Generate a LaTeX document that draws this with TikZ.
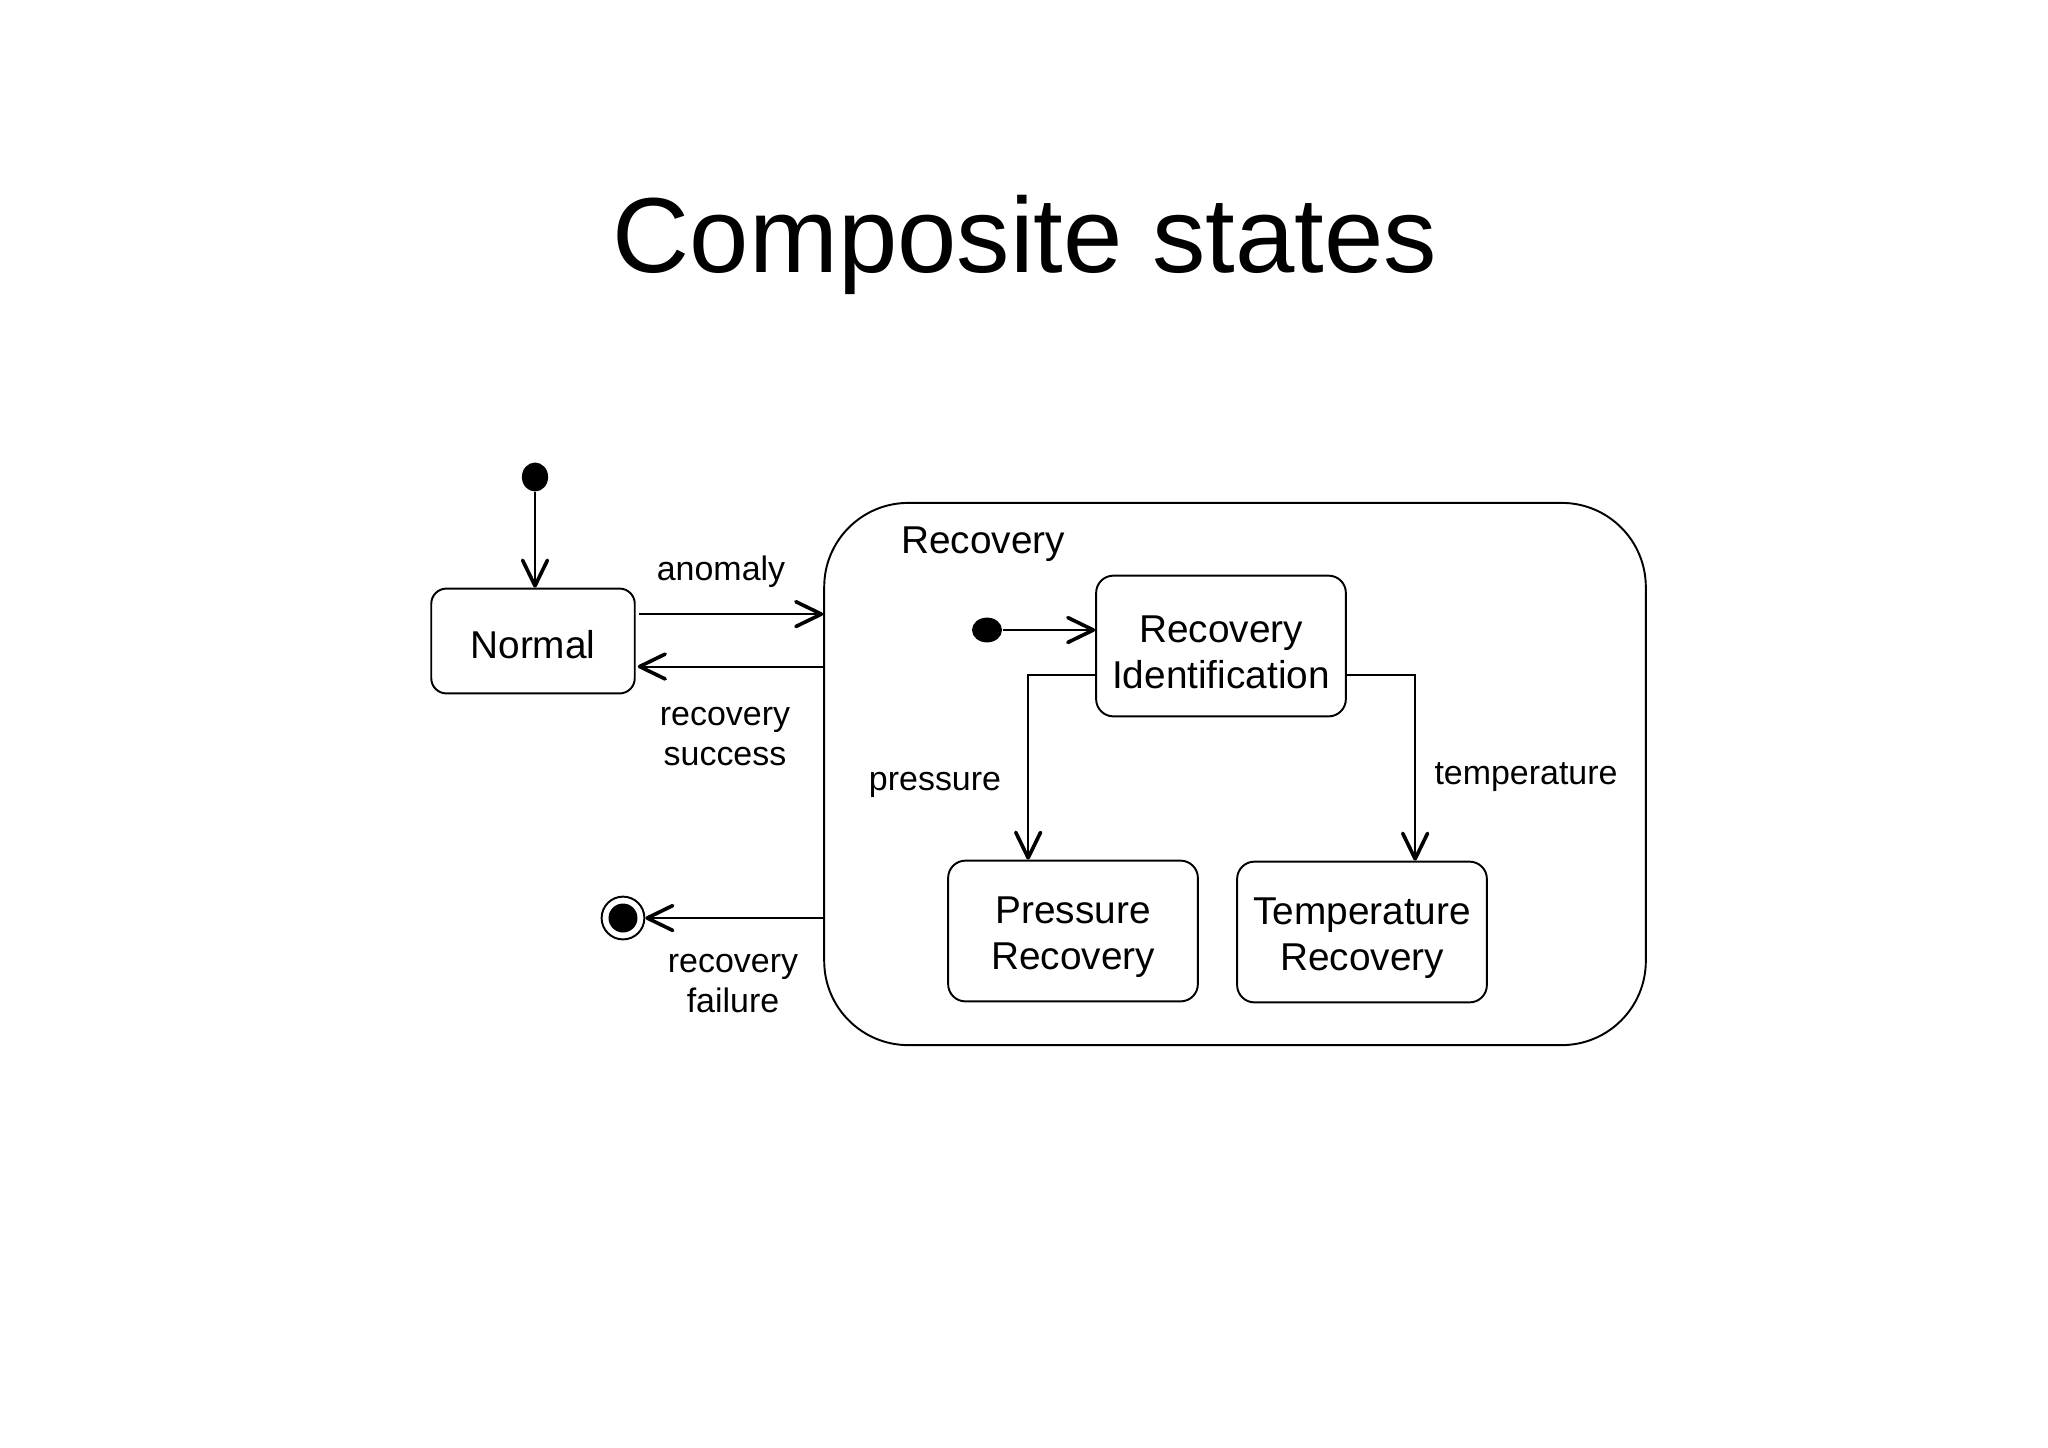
\documentclass[tikz,border=0pt]{standalone}
\usepackage{fontspec}
\setmainfont{Liberation Sans}
\usetikzlibrary{arrows.meta,shapes.geometric}

\tikzset{
  state/.style={draw,rounded corners=2.5mm,align=center,inner sep=0pt,text height=35pt,
    minimum width=36.2mm,minimum height=20.4mm,font=\fontsize{16}{19}\selectfont},
  startdot/.style={ellipse,fill,inner sep=0pt},
  trans/.style={-{Straight Barb[length=3.7mm,width=3.6mm,line width=1.5pt,round]}},
  lbl/.style={font=\fontsize{14}{16.5}\selectfont,align=center,anchor=base},
}

\begin{document}
\begin{tikzpicture}[x=0.0145cm,y=-0.0145cm,line width=0.8pt]
	\useasboundingbox (0,0) rectangle (2048,1447);
	\node[font=\fontsize{44}{53}\selectfont,anchor=base] (title) at (1025,272) {Composite states};

	% outer states
	\node[startdot,minimum width=3.8mm,minimum height=4.2mm] (init) at (535,477) {};
	\node[state,text height=14.5pt,minimum width=29.5mm,minimum height=15.2mm,rounded corners=2.2mm] (normal) at (533,641) {Normal};
	\node[draw,rounded corners=12.2mm,minimum width=119.1mm,minimum height=78.6mm] (recovery) at (1235,774) {};
	\node[font=\fontsize{16}{19}\selectfont,anchor=base] (rtitle) at (983,553) {Recovery};
	\node[circle,draw,minimum size=6.2mm,inner sep=0pt,
	  path picture={\fill (path picture bounding box.center) circle (2.1mm);}] (final) at (623,918) {};

	% inner states
	\node[startdot,minimum width=4.35mm,minimum height=3.6mm] (subinit) at (987,630) {};
	\node[state] (ident) at (1221,646) {Recovery\\Identification};
	\node[state] (pressure) at (1073,931) {Pressure\\Recovery};
	\node[state] (temperature) at (1362,932) {Temperature\\Recovery};

	% transitions
	\coordinate (a1) at ([yshift=3.9mm]normal.east);
	\coordinate (s1) at ([yshift=-3.7mm]normal.east);
	\coordinate (p1) at ([yshift=-4.2mm]ident.west);
	\coordinate (t1) at ([yshift=-4.2mm]ident.east);
	\draw[trans] (init) -- (init |- normal.north);
	\draw[trans,shorten <=0.5mm] (a1) -- (a1 -| recovery.west);
	\draw[trans,shorten >=0.3mm] (s1 -| recovery.west) -- (s1);
	\draw[trans] (recovery.west |- final) -- (final);
	\draw[trans] (subinit) -- (subinit -| ident.west);
	\draw[trans] (p1) -| ([xshift=-6.5mm]pressure.north);
	\draw[trans] (t1) -| ([xshift=7.7mm]temperature.north);

	% labels
	\node[lbl] (lanomaly) at (721,580) {anomaly};
	\node[lbl] (lsuccess) at (725,765) {recovery\\success};
	\node[lbl] (lfailure) at (733,1012) {recovery\\failure};
	\node[lbl] (lpressure) at (935,790) {pressure};
	\node[lbl] (ltemp) at (1526,784) {temperature};
\end{tikzpicture}
\end{document}
